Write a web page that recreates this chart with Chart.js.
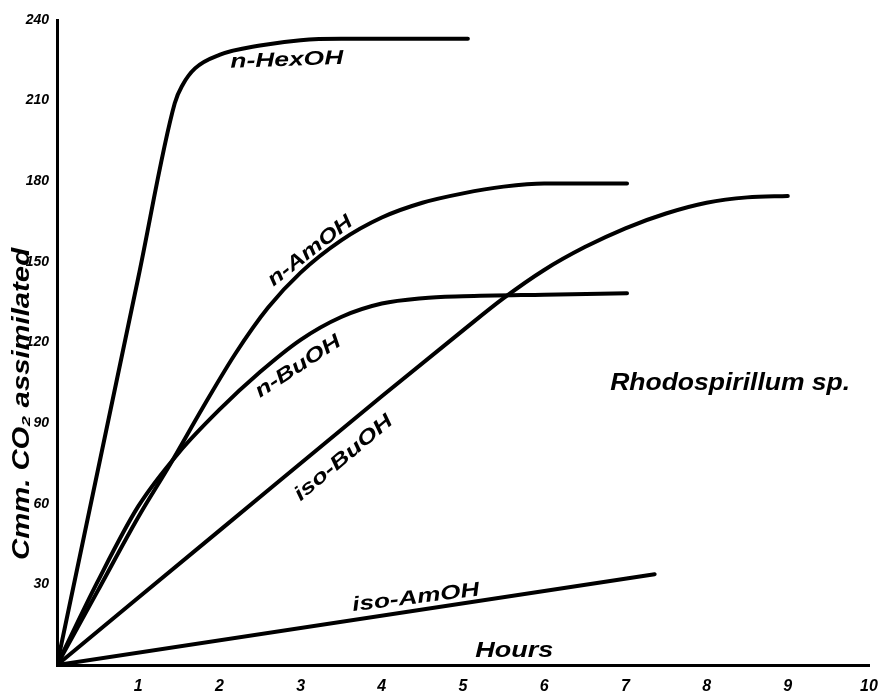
<!DOCTYPE html>
<html>
<head>
<meta charset="utf-8">
<script src="https://cdn.jsdelivr.net/npm/chart.js@4.4.1/dist/chart.umd.min.js"></script>
<style>
  html, body { margin: 0; padding: 0; background: #fff; }
  #wrap { width: 883px; height: 692px; }
</style>
</head>
<body>
<div id="wrap"><canvas id="c"></canvas></div>
<script>
// values (hours vs cmm CO2)
const hexHours = [0, 1.0, 1.45, 1.55, 1.7, 2.0, 2.5, 3.0, 3.5, 5.06]
const hexCO2 = [0, 144, 209, 216, 222, 227, 230.5, 232.5, 233, 233]

const amHours = [0, 0.5, 1.0, 1.4, 1.8, 2.2, 2.6, 3.0, 3.5, 4.0, 4.5, 5.0, 5.5, 6.0, 7.02]
const amCO2 = [0, 27.5, 55, 75, 96, 116, 133, 146, 158, 166.5, 172, 175.5, 178, 179.2, 179.2]

const buHours = [0, 0.5, 1.0, 1.5, 2.0, 2.5, 3.0, 3.5, 4.0, 4.5, 5.0, 6.0, 7.02]
const buCO2 = [0, 31, 59, 79, 95, 109, 121, 129.5, 134.5, 136.5, 137.2, 137.8, 138.3]

const isoBuHours = [0, 2.0, 4.0, 5.0, 5.5, 6.0, 6.5, 7.0, 7.5, 8.0, 8.5, 9.0]
const isoBuCO2 = [0, 50, 100, 124.5, 136.5, 147, 155.5, 162.5, 168, 172, 174, 174.5]

const isoAmHours = [0, 7.36]
const isoAmCO2 = [0, 33.8]

const yTickLabels = { 30: '30', 60: '60', 90: '90', 120: '120', 150: '150', 180: '180', 210: '210', 240: '240' }
const xTickLabels = { 1: '1', 2: '2', 3: '3', 4: '4', 5: '5', 6: '6', 7: '7', 8: '8', 9: '9', 10: '10' }

const toPoints = (xs, ys) => xs.map((x, i) => ({ x: x, y: ys[i] }))

function series(label, xs, ys) {
  return {
    label: label,
    data: toPoints(xs, ys),
    borderColor: '#000',
    borderWidth: 4,
    pointRadius: 0,
    fill: false,
    cubicInterpolationMode: 'monotone',
    borderCapStyle: 'round',
  }
}

// hand lettering, stretched to the width it takes in the figure
const notes = [
  { text: 'n-HexOH', x: 2.83, y: 225, w: 113, angle: -2, size: 20 },
  { text: 'n-AmOH', x: 3.12, y: 154, w: 102, angle: -38, size: 20 },
  { text: 'n-BuOH', x: 2.97, y: 111, w: 98, angle: -33, size: 20 },
  { text: 'iso-BuOH', x: 3.53, y: 77, w: 122, angle: -40, size: 20 },
  { text: 'iso-AmOH', x: 4.42, y: 25, w: 128, angle: -7, size: 20 },
  { text: 'Hours', x: 5.63, y: 5.2, w: 78, angle: 0, size: 22 },
  { text: 'Rhodospirillum sp.', x: 8.29, y: 104.8, w: 240, angle: 0, size: 23 },
]

function drawFit(ctx, text, cx, cy, w, angle, size) {
  ctx.save()
  ctx.translate(cx, cy)
  ctx.rotate(angle * Math.PI / 180)
  ctx.font = 'italic bold ' + size + 'px "Liberation Sans"'
  const m = ctx.measureText(text).width
  ctx.scale(w / m, 1)
  ctx.fillStyle = '#000'
  ctx.textAlign = 'center'
  ctx.textBaseline = 'middle'
  ctx.fillText(text, 0, 0)
  ctx.restore()
}

const lettering = {
  id: 'lettering',
  afterDraw(chart) {
    const ctx = chart.ctx
    const xs = chart.scales.x
    const ys = chart.scales.y
    notes.forEach(n => {
      drawFit(ctx, n.text, xs.getPixelForValue(n.x), ys.getPixelForValue(n.y), n.w, n.angle, n.size)
    })
    // y axis caption, off-centre like the original
    drawFit(ctx, 'Cmm. CO₂ assimilated', 22, 404, 312, -90, 24)
  },
}

const tickFont = { family: 'Liberation Sans', size: 14, style: 'italic', weight: 'bold' }

new Chart(document.getElementById('c'), {
  type: 'line',
  data: {
    datasets: [
      series('n-HexOH', hexHours, hexCO2),
      series('n-AmOH', amHours, amCO2),
      series('n-BuOH', buHours, buCO2),
      series('iso-BuOH', isoBuHours, isoBuCO2),
      series('iso-AmOH', isoAmHours, isoAmCO2),
    ],
  },
  options: {
    responsive: true,
    maintainAspectRatio: false,
    animation: false,
    layout: { padding: { top: 20, right: 14, left: 0, bottom: 0 } },
    plugins: {
      legend: { display: false },
      tooltip: { enabled: false },
    },
    scales: {
      x: {
        type: 'linear',
        min: 0,
        max: 10,
        grid: { display: false },
        border: { display: true, color: '#000', width: 3 },
        ticks: {
          stepSize: 1,
          color: '#000',
          font: { family: 'Liberation Sans', size: 16, style: 'italic', weight: 'bold' },
          padding: 4,
          maxRotation: 0,
          callback: v => xTickLabels[v] || '',
        },
        afterFit: s => { s.height = 27 },
      },
      y: {
        min: 0,
        max: 240,
        grid: { display: false },
        border: { display: true, color: '#000', width: 3 },
        ticks: {
          stepSize: 30,
          color: '#000',
          font: tickFont,
          padding: 0,
          callback: v => yTickLabels[v] || '',
        },
        afterFit: s => { s.width = 57 },
      },
    },
  },
  plugins: [lettering],
})
</script>
</body>
</html>
